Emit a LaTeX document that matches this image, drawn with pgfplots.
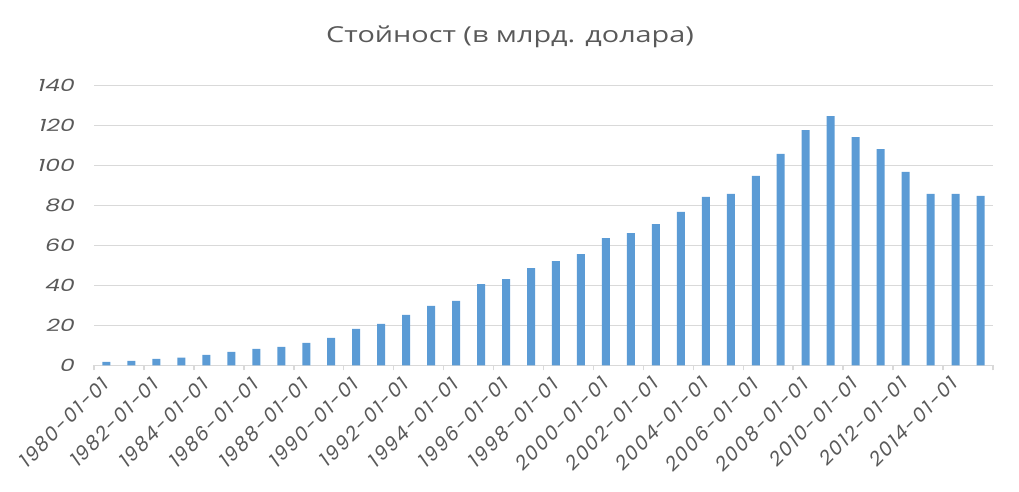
\documentclass[border=0pt]{standalone}
\usepackage{fontspec}
\setmainfont{Open Sans}
\newfontfamily\tickfont{Poppins}
\newfontfamily\tickfontwide{Poppins}[LetterSpace=9]
\usepackage{graphicx}
\usepackage{pgfplots}
\pgfplotsset{compat=1.18}
\definecolor{barblue}{HTML}{5B9BD5}
\definecolor{gridgray}{HTML}{D9D9D9}
\definecolor{txt}{HTML}{595959}
\begin{document}
\begin{tikzpicture}[x=1pt,y=1pt]
\path[use as bounding box] (0,0) rectangle (1019,492);
\begin{axis}[
  at={(94pt,126.7pt)}, anchor=south west,
  scale only axis, width=899pt, height=279.6pt,
  xmin=-0.5, xmax=35.5, ymin=0, ymax=140,
  axis x line*=bottom, axis y line*=left,
  x axis line style={gridgray, line width=1.5pt, -},
  y axis line style={draw=none},
  ytick={0,20,...,140},
  yticklabel={\scalebox{1.38}[1]{\pgfmathprintnumber{\tick}}},
  ymajorgrids, grid style={gridgray, line width=1.5pt},
  major tick length=0pt,
  xtick={0,2,...,34},
  xticklabels={1980-01-01,1982-01-01,1984-01-01,1986-01-01,1988-01-01,1990-01-01,1992-01-01,1994-01-01,1996-01-01,1998-01-01,2000-01-01,2002-01-01,2004-01-01,2006-01-01,2008-01-01,2010-01-01,2012-01-01,2014-01-01},
  minor xtick={-0.5,1.5,...,35.5},
  minor tick length=5pt, tick align=outside,
  minor tick style={gridgray, line width=1.5pt},
  yticklabel style={font=\tickfont\itshape\fontsize{17}{17}\selectfont, text=txt, inner sep=0pt, xshift=-19pt},
  xticklabel style={font=\tickfontwide\itshape\fontsize{19.5}{19.5}\selectfont, text=txt, inner sep=0pt, rotate=45, anchor=north east, xshift=-11.5pt, yshift=-2.5pt},
  /pgf/number format/assume math mode=true,
  ybar, bar width=8pt,
]
\addplot[fill=barblue, draw=none] coordinates {
(0,1.7) (1,2.2) (2,3.2) (3,3.8) (4,5.2) (5,6.7) (6,8.2) (7,9.2) (8,11.2) (9,13.7)
(10,18.2) (11,20.7) (12,25.2) (13,29.7) (14,32.2) (15,40.7) (16,43.2) (17,48.7)
(18,52.2) (19,55.7) (20,63.7) (21,66.2) (22,70.7) (23,76.8) (24,84.3) (25,85.8)
(26,94.8) (27,105.8) (28,117.8) (29,124.8) (30,114.3) (31,108.3) (32,96.8)
(33,85.8) (34,85.8) (35,84.8)
};
\end{axis}
\node[text=txt, font=\fontsize{22}{22}\selectfont, inner sep=0pt] at (510,455) {\scalebox{1.31}[1]{Стойност (в млрд. долара)}};
\end{tikzpicture}
\end{document}
